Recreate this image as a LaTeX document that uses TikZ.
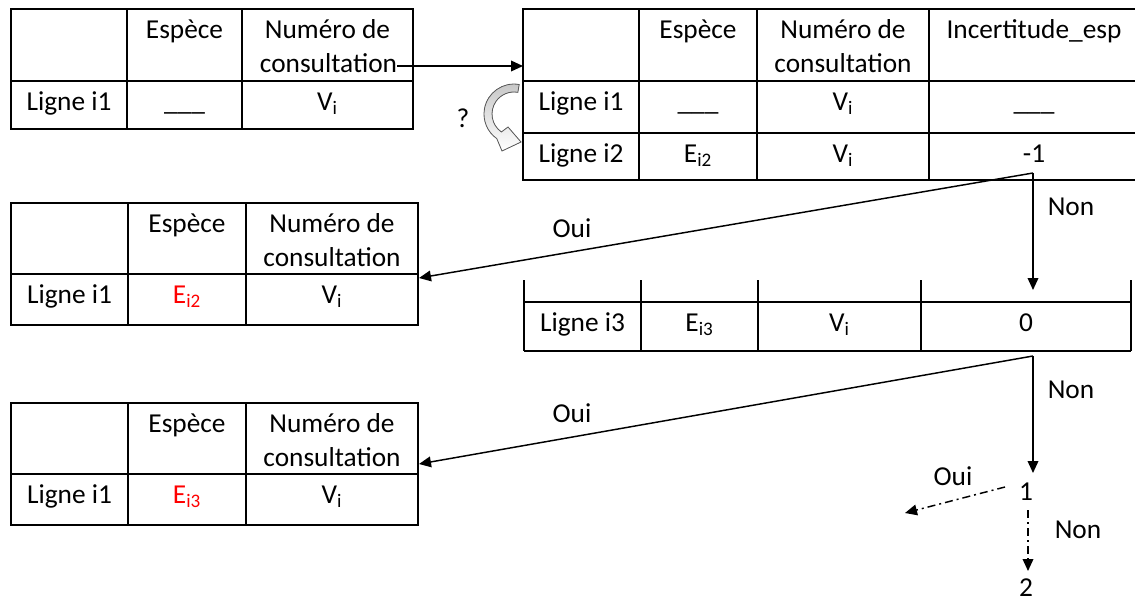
\documentclass[tikz,border=0pt]{standalone}
\usepackage{fontspec}
\setmainfont{Carlito}
\usetikzlibrary{arrows.meta}
\newcommand\dfont{\fontsize{20.5pt}{25.5pt}\selectfont}
\begin{document}
\begin{tikzpicture}[x=0.75pt,y=-0.75pt,
  grid/.style={line width=1.5pt, black},
  txt/.style={inner sep=0pt, anchor=base, font=\dfont},
  lbl/.style={inner sep=0pt, anchor=center, font=\dfont},
  redtxt/.style={txt, text=red},
  arr/.style={line width=1.1pt, -{Triangle[length=9pt,width=8pt]}},
  dda/.style={arr, dash pattern=on 6pt off 3pt on 1.5pt off 3pt}]
\useasboundingbox (0,0) rectangle (1135,604);

% ---------- top-left table ----------
\draw[grid] (11,9) rectangle (413,129);
\draw[grid] (11,81) -- (413,81) (127,9) -- (127,129) (242,9) -- (242,129);
\node[txt] (tlh2) at (184.5,38) {Espèce};
\node[txt] (tlh3a) at (327.5,38) {Numéro de};
\node[txt] (tlh3b) at (328.5,72) {consultation};
\node[txt] (tlr1) at (69,110) {Ligne i1};
\node[txt] (tlr2) at (184.5,110) {\_\_\_};
\node[txt] (tlr3) at (327.5,110) {V\textsubscript{i}};

% ---------- top-right table ----------
\draw[grid] (1140,9) -- (523,9) -- (523,180) -- (1140,180);
\draw[grid] (523,81) -- (1140,81) (523,133) -- (1140,133);
\draw[grid] (639,9) -- (639,180) (757,9) -- (757,180) (929,9) -- (929,180);
\node[txt] (trh2) at (698,38) {Espèce};
\node[txt] (trh3a) at (843,38) {Numéro de};
\node[txt] (trh3b) at (843,72) {consultation};
\node[txt] (trh4) at (1034,38) {Incertitude\_esp};
\node[txt] (tra1) at (581,110) {Ligne i1};
\node[txt] (tra2) at (698,110) {\_\_\_};
\node[txt] (tra3) at (843,110) {V\textsubscript{i}};
\node[txt] (tra4) at (1034,110) {\_\_\_};
\node[txt] (trb1) at (581,162) {Ligne i2};
\node[txt] (trb2) at (698,162) {E\textsubscript{i2}};
\node[txt] (trb3) at (843,162) {V\textsubscript{i}};
\node[txt] (trb4) at (1034,162) {-1};

% ---------- middle-left table ----------
\draw[grid] (11,203) rectangle (418,325);
\draw[grid] (11,274) -- (418,274) (128,203) -- (128,325) (246,203) -- (246,325);
\node[txt] (mlh2) at (187,232) {Espèce};
\node[txt] (mlh3a) at (332,232) {Numéro de};
\node[txt] (mlh3b) at (332,266) {consultation};
\node[txt] (mlr1) at (69.5,303) {Ligne i1};
\node[redtxt] (mlr2) at (187,303) {E\textsubscript{i2}};
\node[txt] (mlr3) at (332,303) {V\textsubscript{i}};

% ---------- middle table (ligne i3) ----------
\draw[grid] (524,302) -- (1131,302) (524,351) -- (1131,351);
\draw[grid] (524,280) -- (524,351) (641,280) -- (641,351) (758,280) -- (758,351)
            (921,280) -- (921,351) (1131,280) -- (1131,351);
\node[txt] (mt1) at (582.5,331) {Ligne i3};
\node[txt] (mt2) at (699.5,331) {E\textsubscript{i3}};
\node[txt] (mt3) at (839.5,331) {V\textsubscript{i}};
\node[txt] (mt4) at (1026,331) {0};

% ---------- bottom-left table ----------
\draw[grid] (11,403) rectangle (418,525);
\draw[grid] (11,474) -- (418,474) (128,403) -- (128,525) (246,403) -- (246,525);
\node[txt] (blh2) at (187,432) {Espèce};
\node[txt] (blh3a) at (332,432) {Numéro de};
\node[txt] (blh3b) at (332,466) {consultation};
\node[txt] (blr1) at (69.5,503) {Ligne i1};
\node[redtxt] (blr2) at (187,503) {E\textsubscript{i3}};
\node[txt] (blr3) at (332,503) {V\textsubscript{i}};

% ---------- curved block arrow and "?" ----------
\filldraw[draw=gray!70!black, line width=0.6pt, top color=gray!45, bottom color=white]
  (519.2,84.5) arc[start angle=-80, end angle=-235, radius=30]
  -- (502,151) -- (521,142) -- (508,127) -- (501.4,132.0)
  arc[start angle=-235, end angle=-80, radius=22] -- cycle;
\node[lbl] (q) at (463,118) {?};

% ---------- coordinates ----------
\coordinate (trW) at (523,66);
\coordinate (p1) at (1033,173);
\coordinate (p2) at (1033,356);
\coordinate (mlE) at (419,278);
\coordinate (blE) at (419,464);
\coordinate (mtN) at (1033,290);
\coordinate (oneN) at (1033,473);
\coordinate (d1s) at (1005,487);
\coordinate (d1e) at (905,513);
\coordinate (d2s) at (1028,510);
\coordinate (d2e) at (1028,571);

% ---------- labels ----------
\node[lbl] (oui1) at (572,228) {Oui};
\node[lbl] (non1) at (1071,207) {Non};
\node[lbl] (oui2) at (572,413) {Oui};
\node[lbl] (non2) at (1071,390) {Non};
\node[lbl] (oui3) at (953,476) {Oui};
\node[lbl] (non3) at (1078,530) {Non};
\node[lbl] (one) at (1026,492) {1};
\node[lbl] (two) at (1026,588) {2};

% ---------- connectors ----------
\draw[arr] ([yshift=4.5pt]tlh3b.base east) -- (trW);
\draw[arr] (p1) -- (mlE);
\draw[arr] (p1) -- (mtN);
\draw[arr] (p2) -- (blE);
\draw[arr] (p2) -- (oneN);
\draw[dda] (d1s) -- (d1e);
\draw[dda] (d2s) -- (d2e);
\end{tikzpicture}
\end{document}
